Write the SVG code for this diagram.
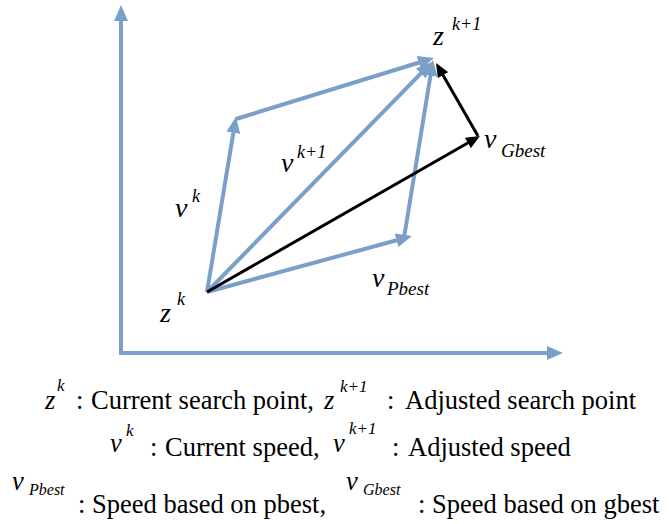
<svg xmlns="http://www.w3.org/2000/svg" width="669" height="524" viewBox="0 0 669 524">
<style>
.b{stroke:#7a9fc8;stroke-width:4;fill:none}
.k{stroke:#000;stroke-width:3;fill:none}
.t{font-family:'Liberation Serif','Times New Roman',serif;fill:#000}
.i{font-style:italic}
</style>
<defs>
<marker id="ab" markerUnits="userSpaceOnUse" markerWidth="16" markerHeight="14" refX="4" refY="7" orient="auto">
<path d="M0,0 L16,7 L0,14 z" fill="#7a9fc8"/>
</marker>
<marker id="ak" markerUnits="userSpaceOnUse" markerWidth="14" markerHeight="12" refX="3" refY="6" orient="auto">
<path d="M0,0 L14,6 L0,12 z" fill="#000"/>
</marker>
</defs>
<rect width="669" height="524" fill="#fff"/>
<g id="connectors">
<line id="axis-y" class="b" x1="121" y1="355" x2="121" y2="17" marker-end="url(#ab)"/>
<line id="axis-x" class="b" x1="119" y1="353" x2="551" y2="353" marker-end="url(#ab)"/>
<line id="vk" class="b" x1="207" y1="292" x2="234" y2="128.8" marker-end="url(#ab)"/>
<line id="vk-top" class="b" x1="236" y1="119" x2="422.5" y2="61.5" marker-end="url(#ab)"/>
<line id="vk1" class="b" x1="207" y1="292" x2="423.6" y2="70.6" marker-end="url(#ab)"/>
<line id="vpbest" class="b" x1="207" y1="292" x2="400.4" y2="239.2" marker-end="url(#ab)"/>
<line id="vp-right" class="b" x1="404" y1="238" x2="431.1" y2="71.8" marker-end="url(#ab)"/>
<line id="vgbest" class="k" x1="207" y1="292" x2="470.4" y2="141.5" marker-end="url(#ak)"/>
<line id="vg-up" class="k" x1="478" y1="136" x2="441.5" y2="72.5" marker-end="url(#ak)"/>
</g>
<g id="label-zk1"><text class="t i" x="433" y="45" font-size="28">z</text><text class="t i" x="452" y="30" font-size="18">k+1</text></g>
<g id="label-vgbest"><text class="t i" x="484" y="148" font-size="28">v</text><text class="t i" x="501" y="157" font-size="19">Gbest</text></g>
<g id="label-vk1"><text class="t i" x="281" y="172" font-size="28">v</text><text class="t i" x="297" y="158" font-size="18">k+1</text></g>
<g id="label-vk"><text class="t i" x="175" y="217" font-size="28">v</text><text class="t i" x="192" y="202" font-size="18">k</text></g>
<g id="label-vpbest"><text class="t i" x="372" y="287" font-size="28">v</text><text class="t i" x="387" y="295" font-size="19">Pbest</text></g>
<g id="label-zk"><text class="t i" x="160" y="322" font-size="28">z</text><text class="t i" x="177" y="305" font-size="18">k</text></g>
<g id="caption" class="t" font-size="26.5">
<text class="t i" x="45" y="409">z</text><text class="t i" x="57" y="391" font-size="17">k</text>
<text class="t" x="76" y="409">:</text><text class="t" x="91" y="409">Current search point,</text>
<text class="t i" x="324" y="409">z</text><text class="t i" x="340" y="392" font-size="17">k+1</text>
<text class="t" x="387" y="409">:</text><text class="t" x="405" y="409">Adjusted search point</text>
<text class="t i" x="110" y="452">v</text><text class="t i" x="126" y="436" font-size="17">k</text>
<text class="t" x="150" y="456">:</text><text class="t" x="165" y="456">Current speed,</text>
<text class="t i" x="333" y="452">v</text><text class="t i" x="349" y="434" font-size="17">k+1</text>
<text class="t" x="392" y="456">:</text><text class="t" x="408" y="456">Adjusted speed</text>
<text class="t i" x="12" y="490">v</text><text class="t i" x="29" y="495" font-size="16">Pbest</text>
<text class="t" x="78" y="513">:</text><text class="t" x="92" y="513">Speed based on pbest,</text>
<text class="t i" x="346" y="490">v</text><text class="t i" x="363" y="495" font-size="16">Gbest</text>
<text class="t" x="418" y="513">:</text><text class="t" x="432" y="513">Speed based on gbest</text>
</g>
</svg>
